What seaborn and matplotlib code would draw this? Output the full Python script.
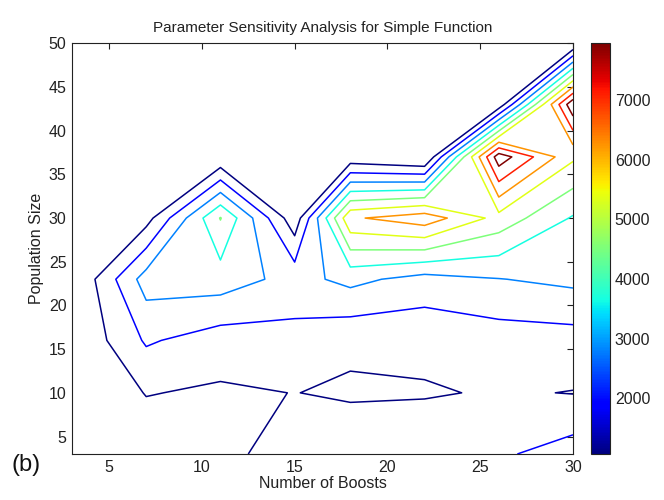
import numpy as np
import matplotlib
matplotlib.use("Agg")
import matplotlib.pyplot as plt
import seaborn as sns
from matplotlib.colors import Normalize
from matplotlib.cm import ScalarMappable

# ---- data -------------------------------------------------------------
boosts = [3, 7, 11, 15, 18, 22, 26, 30]              # x grid (Number of Boosts)
pop_sizes = [3, 10, 16, 23, 30, 37, 43, 50]          # y grid (Population Size)
# one row per population size (bottom to top), one value per boost count
fit_p03 = [370, 508, 715, 1635, 1686, 1805, 1787, 2328]
fit_p10 = [241, 1096, 941, 1073, 944, 977, 1143, 1034]
fit_p16 = [198, 2032, 1491, 1612, 1224, 1308, 1483, 1552]
fit_p23 = [111, 3178, 3234, 2483, 3035, 2440, 2759, 2992]
fit_p30 = [284, 706, 4553, 482, 6106, 6753, 5062, 3561]
fit_p37 = [327, 370, 327, 370, 456, 20, 8478, 5519]
fit_p43 = [284, 284, 284, 284, 284, 284, 456, 8650]
fit_p50 = [241, 241, 241, 241, 241, 241, 241, 198]
contour_levels = [1060, 1922, 2785, 3648, 4510, 5372, 6235, 7098, 7960]
cbar_ticks = [2000, 3000, 4000, 5000, 6000, 7000]
x_ticks = [5, 10, 15, 20, 25, 30]
y_ticks = [5, 10, 15, 20, 25, 30, 35, 40, 45, 50]

fitness = np.array([fit_p03, fit_p10, fit_p16, fit_p23,
                    fit_p30, fit_p37, fit_p43, fit_p50], dtype=float)

# ---- style ------------------------------------------------------------
sns.set_theme(style="white")
plt.rcParams["font.family"] = ["Liberation Sans", "DejaVu Sans"]

fig = plt.figure(figsize=(6.64, 5.0), dpi=100)
ax = fig.add_axes([0.1084, 0.092, 0.7546, 0.8214])
cax = fig.add_axes([0.890, 0.092, 0.0286, 0.8214])

norm = Normalize(vmin=contour_levels[0], vmax=contour_levels[-1])
ax.contour(boosts, pop_sizes, fitness, levels=contour_levels,
           cmap="jet", norm=norm, linewidths=1.1)

ax.set_xlim(3, 30)
ax.set_ylim(3, 50)
ax.set_xticks(x_ticks)
ax.set_yticks(y_ticks)
ax.tick_params(direction="in", top=True, right=True, length=4, width=0.8,
               labelsize=11.5, colors="#222222", pad=4)
for s in ax.spines.values():
    s.set_visible(True)
    s.set_color("#222222")
    s.set_linewidth(0.8)

ax.set_title("Parameter Sensitivity Analysis for Simple Function",
             fontsize=11, pad=8, color="#222222")
ax.set_xlabel("Number of Boosts", fontsize=11.5, labelpad=1, color="#222222")
ax.set_ylabel("Population Size", fontsize=11.5, labelpad=3, color="#222222")

sm = ScalarMappable(norm=norm, cmap="jet")
cb = fig.colorbar(sm, cax=cax, ticks=cbar_ticks)
cb.outline.set_edgecolor("#222222")
cb.outline.set_linewidth(0.8)
cax.tick_params(direction="in", left=True, right=True, length=3, width=0.8,
                labelsize=11.5, colors="#222222")

fig.text(0.018, 0.07, "(b)", fontsize=17, color="#111111", va="center")

fig.savefig("out.png", dpi=100)
